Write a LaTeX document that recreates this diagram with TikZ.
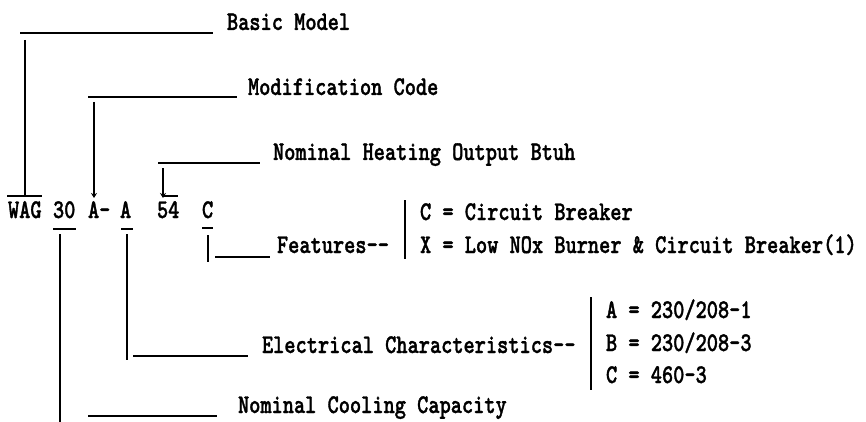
\documentclass[tikz,border=0pt]{standalone}
\usepackage{fontspec}
\usetikzlibrary{arrows.meta}
\newfontfamily\typ{lmmonolt10-bold.otf}[FakeStretch=0.79,FakeBold=1.2]
\begin{document}
\begin{tikzpicture}[x=1pt,y=-1pt,
  txt/.style={inner sep=0pt,outer sep=0pt,anchor=base west,font=\typ\fontsize{27}{27}\selectfont},
  ln/.style={line width=1.8pt},
  arr/.style={ln,-{Stealth[length=5pt,width=6pt]}}]
\useasboundingbox (0,0) rectangle (866,422);
% labels
\node[txt] (basic) at (227,30) {Basic Model};
\node[txt] (mod) at (248,95) {Modification Code};
\node[txt] (heat) at (273,160) {Nominal Heating Output Btuh};
\node[txt] (wag) at (8,218) {WAG};
\node[txt] (n30) at (53,218) {30};
\node[txt] (amod) at (88,218) {A-};
\node[txt] (ael) at (120,218) {A};
\node[txt] (n54) at (157,218) {54};
\node[txt] (cf) at (202,218) {C};
\node[txt] (feat) at (277,253) {Features--};
\node[txt] (fc) at (420,220) {C = Circuit Breaker};
\node[txt] (fx) at (420,253) {X = Low NOx Burner \& Circuit Breaker(1)};
\node[txt] (elec) at (262,353) {Electrical Characteristics--};
\node[txt] (ea) at (606,318) {A = 230/208-1};
\node[txt] (eb) at (606,351) {B = 230/208-3};
\node[txt] (ec) at (606,383) {C = 460-3};
\node[txt] (cool) at (238,413) {Nominal Cooling Capacity};
% coordinates
\coordinate (b1) at (20,33);   \coordinate (b2) at (213,33);
\coordinate (b3) at (25,40);   \coordinate (b4) at (25,196);
\coordinate (b5) at (7,196);   \coordinate (b6) at (42,196);
\coordinate (m1) at (88,97);   \coordinate (m2) at (237,97);
\coordinate (m3) at (94,102);  \coordinate (m4) at (94,198);
\coordinate (h1) at (158,163); \coordinate (h2) at (260,163);
\coordinate (h3) at (163,168); \coordinate (h4) at (163,198);
\coordinate (h5) at (163,196); \coordinate (h6) at (178,196);
\coordinate (u1) at (53,229);  \coordinate (u2) at (76,229);
\coordinate (u3) at (121,229); \coordinate (u4) at (133,229);
\coordinate (u5) at (202,228); \coordinate (u6) at (213,228);
\coordinate (c1) at (60,234);  \coordinate (c2) at (60,422);
\coordinate (c3) at (88,416);  \coordinate (c4) at (217,416);
\coordinate (e1) at (127,234); \coordinate (e2) at (127,360);
\coordinate (e3) at (133,356); \coordinate (e4) at (248,356);
\coordinate (f1) at (208,235); \coordinate (f2) at (208,262);
\coordinate (f3) at (215,257); \coordinate (f4) at (270,257);
\coordinate (fb1) at (405,200); \coordinate (fb2) at (405,259);
\coordinate (eb1) at (591,297); \coordinate (eb2) at (591,390);
% connectors
\draw[ln] (b1) -- (b2);
\draw[ln] (b3) -- (b4);
\draw[ln] (b5) -- (b6);
\draw[ln] (m1) -- (m2);
\draw[arr] (m3) -- (m4);
\draw[ln] (h1) -- (h2);
\draw[arr] (h3) -- (h4);
\draw[ln] (h5) -- (h6);
\draw[ln] (u1) -- (u2);
\draw[ln] (u3) -- (u4);
\draw[ln] (u5) -- (u6);
\draw[ln] (c1) -- (c2);
\draw[ln] (c3) -- (c4);
\draw[ln] (e1) -- (e2);
\draw[ln] (e3) -- (e4);
\draw[ln] (f1) -- (f2);
\draw[ln] (f3) -- (f4);
\draw[ln] (fb1) -- (fb2);
\draw[ln] (eb1) -- (eb2);
\end{tikzpicture}
\end{document}
